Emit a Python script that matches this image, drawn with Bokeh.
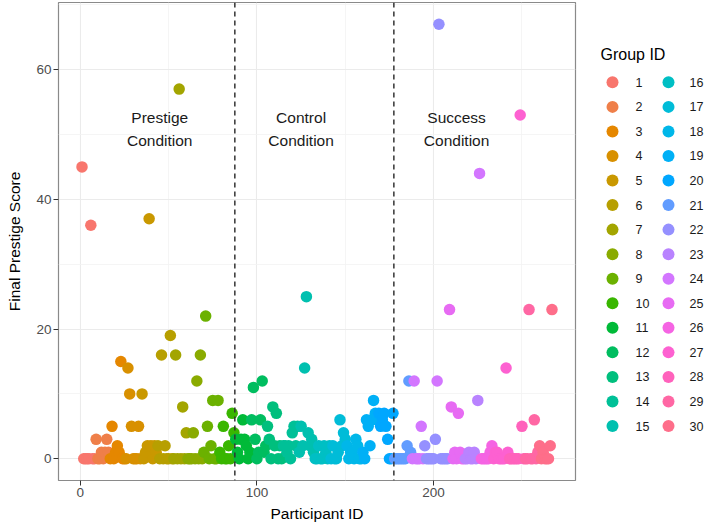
import math
from bokeh.plotting import figure
from bokeh.models import Range1d, FixedTicker, Span, ColumnDataSource
from bokeh.layouts import row
from bokeh.core.properties import value
from bokeh.embed import file_html
from bokeh.resources import INLINE

# ---------------- data ----------------
prestige_scores = [45,0,0,0,0,36,0,0,3,0, 0,1,0,1,3,1,0,5,0,1,
                   2,1,15,0,0,0,14,10,5,0, 0,0,5,0,10,0,1,2,37,2,
                   0,2,1,2,0,16,0,2,0,0, 19,0,0,16,0,57,0,8,0,4,
                   0,0,0,4,0,12,0,16,0,1, 22,5,0,2,9,0,0,9,1,0,
                   5,0,0,2,0,7,4]
control_scores = [3,1,0,3,6,3,2,0,1,6, 11,3,0,1,6,12,1,2,5,3,
                  0,8,2,7,0,2,0,2,2,1, 2,0,4,5,2,5,1,5,2,14,
                  25,4,2,3,1,0,0,2,0,0, 2,1,0,2,0,2,0,0,1,6,
                  2,4,3,2,0,1,1,0,3,2, 0,0,1,0,6,5,2,6,9,7,
                  6,7,5,6,7,5,3,0,0,7]
success_scores = [0,0,0,0,0,0,0,2,12,1, 0,12,0,0,0,5,0,2,0,0,
                  0,0,0,3,12,67,0,0,0,0, 0,23,8,0,1,0,7,1,0,0,
                  0,0,1,0,0,1,0,9,44,0, 0,0,0,0,1,2,0,1,1,0,
                  0,0,0,14,1,0,0,0,0,0, 0,53,5,0,0,0,23,0,0,6,
                  0,1,2,0,1,0,0,0,2,23]

prestige_groups = [1,1,1,1,1,1,1,1, 2,2,2,2,2,2,2,2,
                   3,3,3,3,3,3,3,3,3, 4,4,4,4,4,4,4,4,4,
                   5,5,5,5,5,5,5,5,5, 6,6,6,6,6,6,6,6,6,
                   7,7,7,7,7,7,7,7, 8,8,8,8,8,8,8,8,8,
                   9,9,9,9,9,9,9,9,9, 10,10,10,10,10,10,10,10,10]
control_groups = [11,11,11,11,11,11,11,11,11, 12,12,12,12,12,12,12,12,12,
                  13,13,13,13,13,13,13,13,13, 14,14,14,14,14,14,14,14,14,
                  15,15,15,15,15,15,15,15,15, 16,16,16,16,16,16,16,16,16,
                  17,17,17,17,17,17,17,17,17, 18,18,18,18,18,18,18,18,18,
                  19,19,19,19,19,19,19,19,19, 20,20,20,20,20,20,20,20,20]
success_groups = [21,21,21,21,21,21,21,21,21,21, 24,24,24,24,24,24,24,
                  22,22,22,22,22,22,22, 24, 22,22,22,22,22,22,
                  25,25,25,25,25,25,25,25,25, 23,23,23,23,23,23,23,23, 24,
                  26,26,26,26,26,26,26, 27,27,27,27,27,27,27,27,27,
                  28,28,28,28,28,28, 27, 28,28,
                  29,29,29,29,29,29,29,29, 30,30,30,30,30,30,30,30]

condition_bounds = [87.5, 177.5]
condition_labels = ["Prestige\nCondition", "Control\nCondition", "Success\nCondition"]
condition_label_x = [45, 125, 213]
condition_label_y = [50.8, 50.8, 50.8]

x_ticks = [0, 100, 200]
x_minor = [50, 150, 250]
y_ticks = [0, 20, 40, 60]
y_minor = [10, 30, 50, 70]
group_ids = list(range(1, 31))

# ---------------- palette (ggplot2 hue_pal) ----------------
def hcl_hex(h, c=100.0, l=65.0):
    WY, Wu, Wv = 100.0, 0.1978398, 0.4683363
    hr = math.radians(h)
    U, V = c * math.cos(hr), c * math.sin(hr)
    Y = WY * ((l + 16) / 116) ** 3 if l > 7.999592 else WY * l / 903.3
    u = Wu + U / (13 * l)
    v = Wv + V / (13 * l)
    X = 9.0 * Y * u / (4 * v)
    Z = -X / 3 - 5 * Y + 3 * Y / v
    def g(t):
        return 1.055 * t ** (1 / 2.4) - 0.055 if t > 0.00304 else 12.92 * t
    r = g((3.240479 * X - 1.537150 * Y - 0.498535 * Z) / WY)
    gg = g((-0.969256 * X + 1.875992 * Y + 0.041556 * Z) / WY)
    b = g((0.055648 * X - 0.204043 * Y + 1.057311 * Z) / WY)
    cl = lambda t: max(0, min(255, int(round(255 * max(0.0, min(1.0, t))))))
    return "#%02X%02X%02X" % (cl(r), cl(gg), cl(b))

n = len(group_ids)
palette = [hcl_hex(15 + 360.0 / n * i) for i in range(n)]

scores = prestige_scores + control_scores + success_scores
groups = prestige_groups + control_groups + success_groups
ids = list(range(1, len(scores) + 1))
colors = [palette[g - 1] for g in groups]

FONT = "Liberation Sans"
H = 524
TOP, BOTTOM = 2, 43

# ---------------- main plot ----------------
p = figure(width=577, height=H, output_backend="svg", toolbar_location=None,
           x_range=Range1d(-12.3, 280.3), y_range=Range1d(-3.35, 70.35),
           min_border_left=58, min_border_right=2, min_border_top=TOP,
           min_border_bottom=BOTTOM)
p.background_fill_color = "white"
p.border_fill_color = "white"
p.outline_line_color = "#8A8A8A"
p.outline_line_width = 1.2

p.xaxis.ticker = FixedTicker(ticks=x_ticks, minor_ticks=x_minor)
p.yaxis.ticker = FixedTicker(ticks=y_ticks, minor_ticks=y_minor)
for ax in (p.xaxis[0], p.yaxis[0]):
    ax.axis_line_color = None
    ax.major_tick_line_color = "#333333"
    ax.major_tick_in = 0
    ax.major_tick_out = 5
    ax.minor_tick_line_color = None
    ax.major_label_text_font = FONT
    ax.major_label_text_font_size = "13.5px"
    ax.major_label_text_color = "#4D4D4D"
    ax.major_label_standoff = 2
    ax.axis_label_text_font = FONT
    ax.axis_label_text_font_size = "15.5px"
    ax.axis_label_text_font_style = "normal"
    ax.axis_label_text_color = "black"
p.xaxis.axis_label = "Participant ID"
p.yaxis.axis_label = "Final Prestige Score"
p.xaxis.axis_label_standoff = 5
p.yaxis.axis_label_standoff = 10

for gr in (p.xgrid[0], p.ygrid[0]):
    gr.grid_line_color = "#EBEBEB"
    gr.grid_line_width = 1.1
    gr.minor_grid_line_color = "#F3F3F3"
    gr.minor_grid_line_width = 0.8

src = ColumnDataSource(dict(x=ids, y=scores, c=colors))
p.scatter("x", "y", source=src, size=11.5, fill_color="c", line_color="c", line_width=0)

for b in condition_bounds:
    p.add_layout(Span(location=b, dimension="height", line_color="#333333",
                      line_width=1.5, line_dash="5 4"))

p.text(x=condition_label_x, y=condition_label_y, text=condition_labels,
       text_font=value(FONT), text_font_size="15.5px", text_color="#1A1A1A",
       text_align="center", text_baseline="middle", text_line_height=1.35)

# ---------------- legend panel (frame aligned with main plot) ----------------
LW = 128
lg = figure(width=LW, height=H, output_backend="svg", toolbar_location=None,
            x_range=Range1d(0, LW), y_range=Range1d(H - BOTTOM, TOP),
            min_border_left=0, min_border_right=0,
            min_border_top=TOP, min_border_bottom=BOTTOM)
lg.axis.visible = False
lg.grid.visible = False
lg.outline_line_color = None
lg.background_fill_color = "white"
lg.border_fill_color = "white"

per_col = 15
row_h = 24.6
dot_x = [35 if i < per_col else 91 for i in range(n)]
lab_x = [58 if i < per_col else 112 for i in range(n)]
row_y = [82 + row_h * (i % per_col) for i in range(n)]
lg.scatter(dot_x, row_y, size=12, fill_color=palette, line_color=palette, line_width=0)
lg.text(lab_x, row_y, text=[str(g) for g in group_ids], text_font=value(FONT),
        text_font_size="12.5px", text_color="#1A1A1A", text_baseline="middle",
        text_align="left")
lg.text([23], [54], text=["Group ID"], text_font=value(FONT), text_font_size="16px",
        text_color="black", text_baseline="middle", text_align="left")

layout = row(p, lg)
open("out.html", "w").write(file_html(layout, INLINE))
